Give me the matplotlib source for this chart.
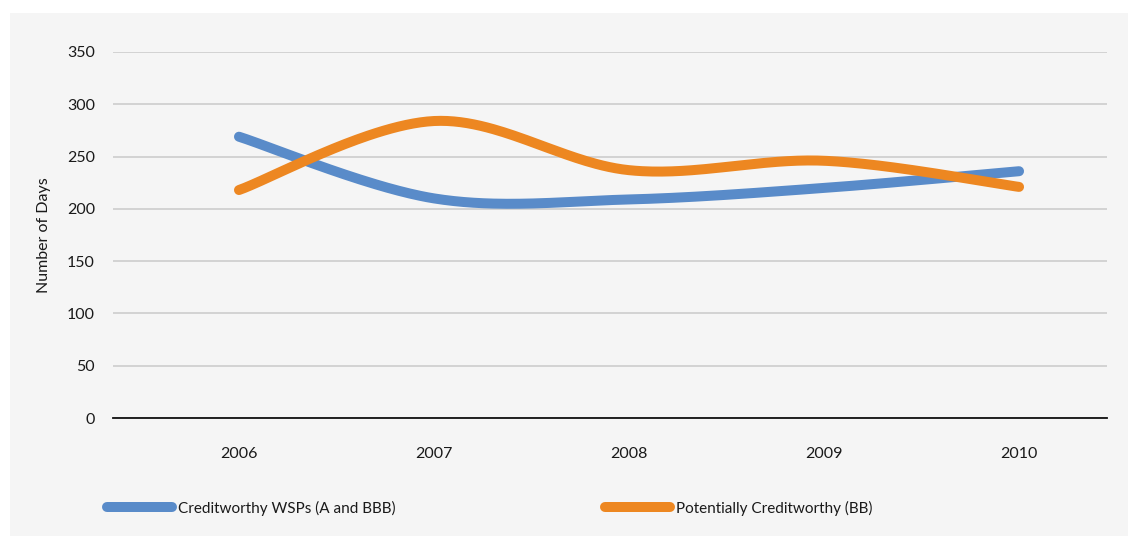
import numpy as np
import matplotlib
matplotlib.use("Agg")
import matplotlib.pyplot as plt
from matplotlib.patches import Rectangle
from matplotlib.lines import Line2D

# Data
years = ["2006", "2007", "2008", "2009", "2010"]
creditworthy = [269, 210, 209, 220, 236]
potentially_creditworthy = [218, 284, 237, 246, 221]
series_labels = ["Creditworthy WSPs (A and BBB)", "Potentially Creditworthy (BB)"]
y_ticks = [0, 50, 100, 150, 200, 250, 300, 350]

BLUE = "#598BC9"
ORANGE = "#ED8721"
PANEL = "#F5F5F5"
GRID = "#C9C9C9"

plt.rcParams["font.family"] = ["Lato", "DejaVu Sans"]


def smooth_curve(xs, ys, n=60):
    """Bezier smoothing through every point (spreadsheet-style smoothed line)."""
    pts = np.column_stack([xs, ys]).astype(float)
    out = []
    for i in range(len(pts) - 1):
        p0 = pts[i - 1] if i > 0 else pts[i]
        p1 = pts[i]
        p2 = pts[i + 1]
        p3 = pts[i + 2] if i + 2 < len(pts) else pts[i + 1]
        c1 = p1 + (p2 - p0) / 6.0
        c2 = p2 - (p3 - p1) / 6.0
        t = np.linspace(0, 1, n)[:, None]
        seg = ((1 - t) ** 3) * p1 + 3 * ((1 - t) ** 2) * t * c1 \
            + 3 * (1 - t) * t ** 2 * c2 + t ** 3 * p2
        out.append(seg if i == 0 else seg[1:])
    seg = np.vstack(out)
    return seg[:, 0], seg[:, 1]


W, H = 1128, 536
fig = plt.figure(figsize=(W / 100, H / 100), dpi=100)
fig.patch.set_facecolor("white")
fig.patches.append(Rectangle((10 / W, 0), 1 - 10 / W, 1 - 13 / H,
                             transform=fig.transFigure, facecolor=PANEL,
                             edgecolor="none", zorder=-10))

ax = fig.add_axes([113 / W, 1 - 418 / H, (1107 - 113) / W, (418 - 52) / H])
ax.set_facecolor("none")

x = np.arange(len(years))
for vals, color, lab in [(creditworthy, BLUE, series_labels[0]),
                         (potentially_creditworthy, ORANGE, series_labels[1])]:
    sx, sy = smooth_curve(x, vals)
    ax.plot(sx, sy, color=color, lw=7.2, solid_capstyle="round",
            solid_joinstyle="round", label=lab, zorder=3)

ax.set_ylim(0, 350)
ax.set_xlim(-0.646, 4.451)
ax.set_yticks(y_ticks)
ax.set_yticklabels([str(v) for v in y_ticks])
ax.set_xticks(x)
ax.set_xticklabels(years)
ax.tick_params(axis="both", length=0, labelsize=11.5, colors="#1a1a1a")
ax.tick_params(axis="y", pad=13)
ax.tick_params(axis="x", pad=21)
ax.grid(axis="y", color=GRID, lw=1.1, zorder=0)
ax.grid(axis="x", visible=False)
for s in ["top", "right", "left"]:
    ax.spines[s].set_visible(False)
ax.spines["bottom"].set_color("#111111")
ax.spines["bottom"].set_linewidth(1.3)
ax.spines["bottom"].set_zorder(2)

fig.text(44 / W, 1 - 235 / H, "Number of Days", rotation=90, ha="center",
         va="center", fontsize=11.5, color="#1a1a1a")

handles = [Line2D([], [], color=BLUE, lw=7.2, solid_capstyle="round"),
           Line2D([], [], color=ORANGE, lw=7.2, solid_capstyle="round")]
fig.legend(handles, series_labels, loc="center left",
           bbox_to_anchor=(93 / W, 1 - 508 / H), ncol=2, frameon=False,
           fontsize=11, handlelength=4.3, handletextpad=0.35,
           columnspacing=13.7, labelcolor="#1a1a1a")

fig.savefig("out.png", dpi=100, facecolor=fig.get_facecolor())
